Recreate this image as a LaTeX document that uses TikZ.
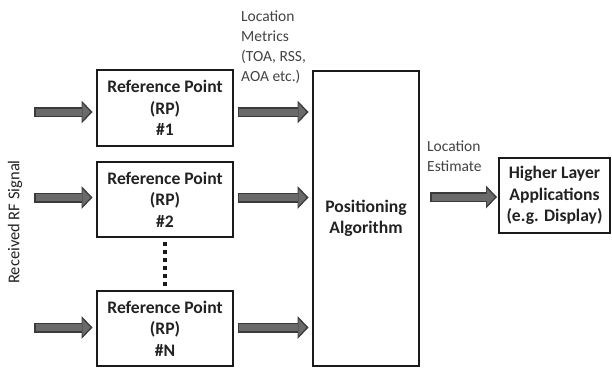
\documentclass[tikz,border=0pt]{standalone}
\usepackage{fontspec}
\setmainfont{Carlito}
\usetikzlibrary{arrows.meta,calc}
\definecolor{arrowfill}{HTML}{6A6A6A}
\definecolor{arrowedge}{HTML}{3A3A3A}
\definecolor{boxline}{HTML}{1A1A1A}
\definecolor{txt}{HTML}{222222}
\tikzset{
  rpbox/.style={draw=boxline, line width=2pt, minimum width=136pt, minimum height=76pt,
    inner sep=0pt, outer sep=4.5pt, align=center, text=txt,
    font=\bfseries\fontsize{17.6}{21.5}\selectfont},
  lbl/.style={inner sep=0pt, align=left, text=txt!85,
    font=\fontsize{15.5}{20}\selectfont},
  fat/.style={draw=arrowfill, line width=7pt,
    -{Triangle[length=8pt,width=17pt,line width=0pt]},
    shorten >=2.1pt, shorten <=1.5pt,
    preaction={draw=arrowedge, line width=10pt, shorten >=0pt, shorten <=0pt,
      -{Triangle[length=11pt,width=23pt,line width=0pt]}}},
  dotline/.style={draw=boxline, line width=3.5pt, dash pattern=on 4pt off 4pt}
}
\begin{document}
\begin{tikzpicture}[x=1pt,y=-1pt]
\useasboundingbox (0,0) rectangle (612,367);
% boxes
\node[rpbox] (rp1) at (165,108) {Reference Point\\(RP)\\\#1};
\node[rpbox, minimum height=75pt] (rp2) at (165,199.5) {Reference Point\\(RP)\\\#2};
\node[rpbox, minimum height=75pt] (rpN) at (165,328.5) {Reference Point\\(RP)\\\#N};
\node[rpbox, minimum width=106pt, minimum height=295pt] (alg) at (366,218.5)
  {Positioning\\Algorithm};
\node[rpbox, minimum width=111pt, minimum height=75pt, line width=2.5pt, outer sep=2pt] (hla) at (554.5,195.5)
  {Higher Layer\\Applications\\(e.g. Display)};
% labels
\node[lbl, anchor=west] (lm) at (241,47) {Location\\Metrics\\(TOA, RSS,\\AOA etc.)};
\node[lbl, anchor=west] (le) at (427,156.5) {Location\\Estimate};
\node[lbl, rotate=90, text=txt, font=\fontsize{16.5}{20}\selectfont] (rf) at (15,222) {Received RF Signal};
% input coordinates
\coordinate (in1) at (34,112);
\coordinate (in2) at (34,197.5);
\coordinate (inN) at (34,327.5);
% input arrows
\draw[fat] (in1) -- (in1 -| rp1.west);
\draw[fat] (in2) -- (in2 -| rp2.west);
\draw[fat] (inN) -- (inN -| rpN.west);
% output arrows
\draw[fat] (in1 -| rp1.east) -- (in1 -| alg.west);
\draw[fat] (in2 -| rp2.east) -- (in2 -| alg.west);
\draw[fat] (inN -| rpN.east) -- (inN -| alg.west);
% estimate arrow
\coordinate (est) at (430,197);
\draw[fat] (est) -- (est -| hla.west);
% dots
\draw[dotline] (rp2.south) -- (rpN.north);
\end{tikzpicture}
\end{document}
